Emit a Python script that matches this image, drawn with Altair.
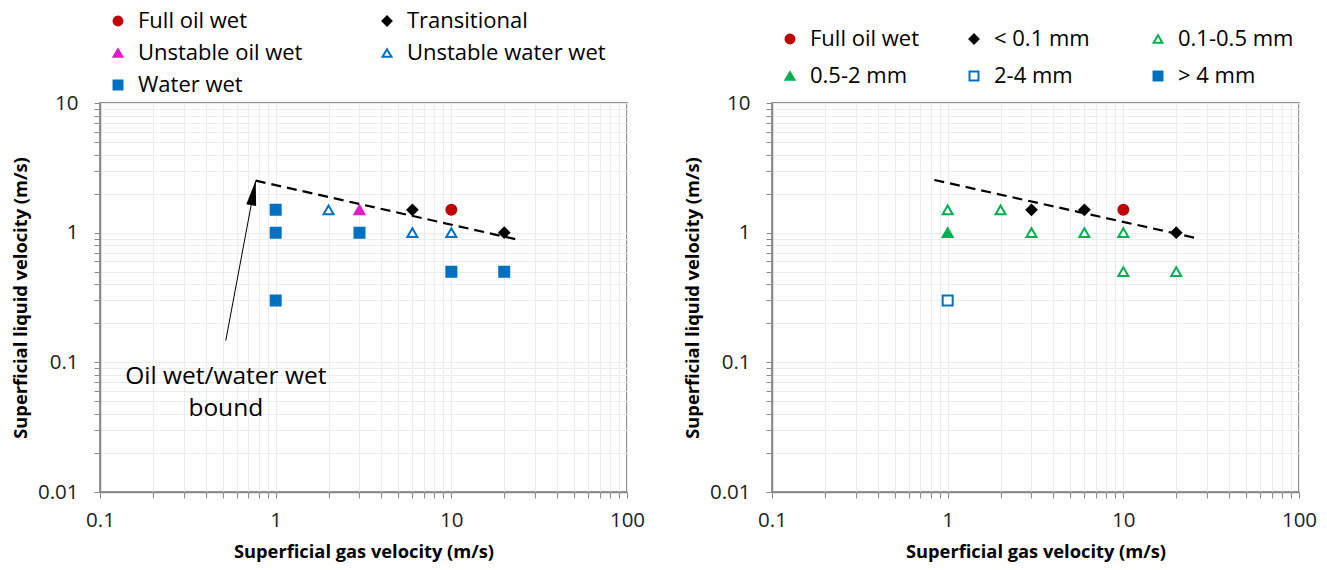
import altair as alt
import pandas as pd

# ---------------- data ----------------
# Left panel: wettability regimes
L_CATS = ["Full oil wet", "Transitional", "Unstable oil wet", "Unstable water wet", "Water wet"]
L_SHAPES = ["circle", "diamond", "triangle-up", "triangle-up", "square"]
L_FILLS = ["#C00000", "#000000", "#E01BC8", "#FFFFFF", "#0070C0"]
L_STROKES = ["#C00000", "#000000", "#E01BC8", "#0070C0", "#0070C0"]

L_GAS = [10, 6, 20, 3, 2, 6, 10, 1, 1, 1, 3, 10, 20]
L_LIQ = [1.5, 1.5, 1, 1.5, 1.5, 1, 1, 1.5, 1, 0.3, 1, 0.5, 0.5]
L_CAT = ["Full oil wet", "Transitional", "Transitional", "Unstable oil wet",
         "Unstable water wet", "Unstable water wet", "Unstable water wet",
         "Water wet", "Water wet", "Water wet", "Water wet", "Water wet", "Water wet"]

# Right panel: droplet size classes
R_CATS = ["Full oil wet", "< 0.1 mm", "0.1-0.5 mm", "0.5-2 mm", "2-4 mm", "> 4 mm"]
R_SHAPES = ["circle", "diamond", "triangle-up", "triangle-up", "square", "square"]
R_FILLS = ["#C00000", "#000000", "#FFFFFF", "#00B050", "#FFFFFF", "#0070C0"]
R_STROKES = ["#C00000", "#000000", "#00B050", "#00B050", "#0070C0", "#0070C0"]

R_GAS = [10, 3, 6, 20, 1, 2, 3, 6, 10, 10, 20, 1, 1]
R_LIQ = [1.5, 1.5, 1.5, 1, 1.5, 1.5, 1, 1, 1, 0.5, 0.5, 1, 0.3]
R_CAT = ["Full oil wet", "< 0.1 mm", "< 0.1 mm", "< 0.1 mm",
         "0.1-0.5 mm", "0.1-0.5 mm", "0.1-0.5 mm", "0.1-0.5 mm", "0.1-0.5 mm",
         "0.1-0.5 mm", "0.1-0.5 mm", "0.5-2 mm", "2-4 mm"]

# Oil wet / water wet boundary (dashed)
L_BOUND_GAS = [0.77, 24.2]
L_BOUND_LIQ = [2.52, 0.88]
R_BOUND_GAS = [0.84, 26.8]
R_BOUND_LIQ = [2.55, 0.90]

# Annotation arrow and text (left panel)
ARROW_GAS = [0.52, 0.77]
ARROW_LIQ = [0.147, 2.52]
NOTE_TEXT = ["Oil wet/water wet", "bound"]
NOTE_GAS = [0.52, 0.52]
NOTE_LIQ = [0.0776, 0.044]

X_TICKS = [0.1, 0.2, 0.3, 0.4, 0.5, 0.6, 0.7, 0.8, 0.9,
           1, 2, 3, 4, 5, 6, 7, 8, 9,
           10, 20, 30, 40, 50, 60, 70, 80, 90, 100]
Y_TICKS = [0.01, 0.02, 0.03, 0.04, 0.05, 0.06, 0.07, 0.08, 0.09,
           0.1, 0.2, 0.3, 0.4, 0.5, 0.6, 0.7, 0.8, 0.9,
           1, 2, 3, 4, 5, 6, 7, 8, 9, 10]
DECADES_X = [0.1, 1, 10, 100]
DECADES_Y = [0.01, 0.1, 1, 10]

FONT = "Open Sans"
W, H = 527, 389


def label_expr(decades):
    arr = "[" + ",".join(str(d) for d in decades) + "]"
    return f"indexof({arr}, datum.value) >= 0 ? '' + datum.value : ''"


def axes():
    x = alt.X("gas:Q",
              scale=alt.Scale(type="log", domain=[0.1, 100], nice=False),
              axis=alt.Axis(values=X_TICKS, labelExpr=label_expr(DECADES_X),
                            title="Superficial gas velocity (m/s)",
                            labelPadding=12, titlePadding=13))
    y = alt.Y("liq:Q",
              scale=alt.Scale(type="log", domain=[0.01, 10], nice=False),
              axis=alt.Axis(values=Y_TICKS, labelExpr=label_expr(DECADES_Y),
                            title="Superficial liquid velocity (m/s)",
                            labelPadding=16, titlePadding=7))
    return x, y


def panel(gas, liq, cat, cats, shapes, fills, strokes, bgas, bliq, legend, extra=None):
    x, y = axes()
    pts = pd.DataFrame({"gas": gas, "liq": liq, "cat": cat})
    layers = []
    bound = pd.DataFrame({"gas": bgas, "liq": bliq})
    layers.append(
        alt.Chart(bound).mark_line(color="black", strokeWidth=2.2, strokeDash=[10, 6])
        .encode(x=x, y=y)
    )
    if extra:
        layers.extend(extra)
    layers.append(
        alt.Chart(pts).mark_point(opacity=1, strokeWidth=2, size=100)
        .encode(
            x=x, y=y,
            shape=alt.Shape("cat:N", scale=alt.Scale(domain=cats, range=shapes), legend=legend),
            fill=alt.Fill("cat:N", scale=alt.Scale(domain=cats, range=fills), legend=legend),
            stroke=alt.Stroke("cat:N", scale=alt.Scale(domain=cats, range=strokes), legend=legend),
        )
    )
    return alt.layer(*layers).properties(width=W, height=H)


# Left panel extras: arrow + annotation
x_, y_ = axes()
arrow_line = alt.Chart(pd.DataFrame({"gas": ARROW_GAS, "liq": ARROW_LIQ})).mark_line(
    color="black", strokeWidth=1).encode(x=x_, y=y_)
arrow_head = alt.Chart(pd.DataFrame({"gas": ARROW_GAS[1:], "liq": ARROW_LIQ[1:]})).mark_point(
    shape="M0,0L0.2,1L-0.2,1Z", size=2500, filled=True, color="black", opacity=1, angle=10.4,
    strokeWidth=0).encode(x=x_, y=y_)
note = alt.Chart(pd.DataFrame({"gas": NOTE_GAS, "liq": NOTE_LIQ, "t": NOTE_TEXT})).mark_text(
    font=FONT, fontSize=24.5, color="black", align="center", baseline="middle").encode(
    x=x_, y=y_, text="t:N")

left_legend = alt.Legend(title=None, orient="none", direction="horizontal",
                         legendX=7, legendY=-93, columns=2,
                         columnPadding=73, rowPadding=10, labelFont=FONT, labelFontSize=22,
                         symbolSize=80, symbolStrokeWidth=2, labelOffset=9, padding=0,
                         labelLimit=400)
right_legend = alt.Legend(title=None, orient="none", direction="horizontal",
                          legendX=7, legendY=-75, columns=3,
                          columnPadding=37, rowPadding=15, labelFont=FONT, labelFontSize=22,
                          symbolSize=80, symbolStrokeWidth=2, labelOffset=9, padding=0,
                          gridAlign="all", labelLimit=400)

left = panel(L_GAS, L_LIQ, L_CAT, L_CATS, L_SHAPES, L_FILLS, L_STROKES,
             L_BOUND_GAS, L_BOUND_LIQ, left_legend, extra=[arrow_line, arrow_head, note])
right = panel(R_GAS, R_LIQ, R_CAT, R_CATS, R_SHAPES, R_FILLS, R_STROKES,
              R_BOUND_GAS, R_BOUND_LIQ, right_legend)

chart = alt.hconcat(left, right, spacing=36).resolve_scale(
    shape="independent", fill="independent", stroke="independent"
).resolve_legend(shape="independent", fill="independent", stroke="independent").configure_view(
    stroke="#6f6f6f", strokeWidth=1.5
).configure_axis(
    grid=True, gridColor="#ececec", gridWidth=1,
    domainColor="#8a8a8a", domainWidth=1.5, tickColor="#8a8a8a", tickSize=6,
    labelFont=FONT, labelFontSize=20.5, labelColor="#222222",
    titleFont=FONT, titleFontSize=18.3, titleFontWeight="bold", titleColor="#000000",
    labelFlush=False, labelOverlap=False
).properties(padding={"left": 10, "top": 9, "right": 5, "bottom": 5})

chart.save("out.html", embed_options={"renderer": "svg", "actions": False})
